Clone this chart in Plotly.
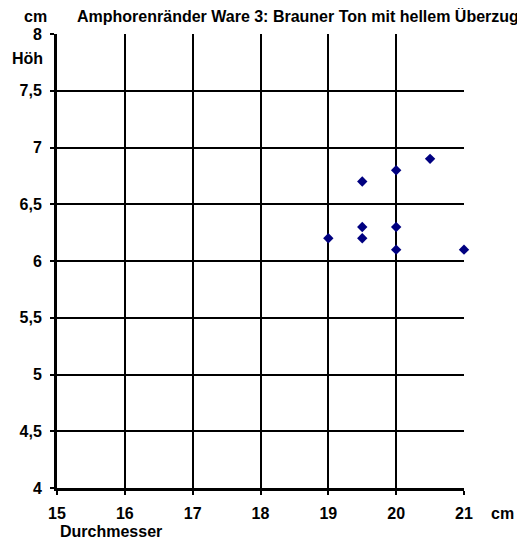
import plotly.graph_objects as go

durchmesser = [19, 19.5, 19.5, 19.5, 20, 20, 20, 20.5, 21]
hoehe = [6.2, 6.7, 6.3, 6.2, 6.8, 6.3, 6.1, 6.9, 6.1]

x_ticks = [15, 16, 17, 18, 19, 20, 21]
x_labels = ["15", "16", "17", "18", "19", "20", "21"]
y_ticks = [4, 4.5, 5, 5.5, 6, 6.5, 7, 7.5, 8]
y_labels = ["4", "4,5", "5", "5,5", "6", "6,5", "7", "7,5", "8"]

title_text = "Amphorenränder Ware 3: Brauner Ton mit hellem Überzug"

FAM = "Liberation Sans, Arial, sans-serif"
font = dict(family=FAM, size=16, color="black")

fig = go.Figure()
fig.add_trace(go.Scatter(
    x=durchmesser, y=hoehe, mode="markers",
    marker=dict(symbol="diamond", size=8, color="#000080", line=dict(width=0)),
    cliponaxis=False, showlegend=False,
))

axis_common = dict(
    showgrid=True, gridcolor="black", gridwidth=1.5,
    showline=True, linecolor="black", linewidth=3,
    ticks="outside", ticklen=4, tickwidth=1.5, tickcolor="black",
    zeroline=False, tickfont=dict(family=FAM, size=16, color="black"),
)

fig.update_layout(
    width=525, height=543,
    margin=dict(l=47, r=69, t=26, b=63),
    paper_bgcolor="white", plot_bgcolor="white",
    font=font,
    xaxis=dict(range=[15, 21], tickvals=x_ticks,
               ticktext=["<b>%s</b>" % t for t in x_labels],
               ticklabelstandoff=5, **axis_common),
    yaxis=dict(range=[4, 8], tickvals=y_ticks,
               ticktext=["<b>%s</b>" % t for t in y_labels],
               ticklabelstandoff=5, **axis_common),
)

def note(text, x, xshift, y, yshift, xanchor="center"):
    fig.add_annotation(text="<b>%s</b>" % text, xref="paper", yref="paper",
                       x=x, xshift=xshift, y=y, yshift=yshift,
                       xanchor=xanchor, yanchor="middle", showarrow=False,
                       font=dict(family=FAM, size=16, color="black"))

note(title_text, 0, 18, 1.0, 18, xanchor="left")
note("cm", 0, -22, 1.0, 18)
note("Höh", 0, -30, 1.0, -24)
note("cm", 1.0, 38, 0, -25)
note("Durchmesser", 0, 1, 0, -43, xanchor="left")

fig.write_html("out.html")
